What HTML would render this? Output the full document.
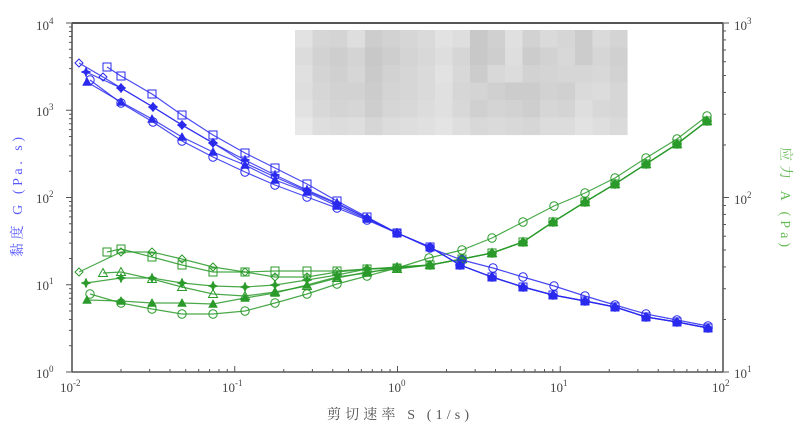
<!DOCTYPE html>
<html><head><meta charset="utf-8">
<style>
html,body{margin:0;padding:0;background:#fff;}
svg{display:block;}
text{font-family:"Liberation Serif","Noto Serif CJK SC",serif;}
</style></head>
<body>
<svg id="s" width="800" height="429" viewBox="0 0 800 429" xmlns="http://www.w3.org/2000/svg">
<rect width="800" height="429" fill="#fff"/>
<g id="box"></g>
<g id="axes" stroke="#555" fill="none" stroke-width="1.3">
<line x1="72" y1="23" x2="723" y2="23" stroke-width="2"/>
<line x1="72" y1="23" x2="72" y2="372" stroke-width="1.6"/>
<line x1="72" y1="372" x2="723" y2="372" stroke-width="1.6"/>
<line x1="723" y1="23" x2="723" y2="372" stroke-width="1.6"/>
</g>
<g id="ticks" stroke="#555" stroke-width="1"></g>
<g id="series"></g>
<g font-size="13" fill="#444">
<text x="36" y="30">10<tspan font-size="9" dy="-6">4</tspan></text>
<text x="36" y="116">10<tspan font-size="9" dy="-6">3</tspan></text>
<text x="36" y="203">10<tspan font-size="9" dy="-6">2</tspan></text>
<text x="36" y="290">10<tspan font-size="9" dy="-6">1</tspan></text>
<text x="36" y="378">10<tspan font-size="9" dy="-6">0</tspan></text>
<text x="734" y="30">10<tspan font-size="9" dy="-6">3</tspan></text>
<text x="734" y="204">10<tspan font-size="9" dy="-6">2</tspan></text>
<text x="734" y="378">10<tspan font-size="9" dy="-6">1</tspan></text>
<text x="60" y="392">10<tspan font-size="9" dy="-6">-2</tspan></text>
<text x="222" y="392">10<tspan font-size="9" dy="-6">-1</tspan></text>
<text x="388" y="392">10<tspan font-size="9" dy="-6">0</tspan></text>
<text x="550" y="392">10<tspan font-size="9" dy="-6">1</tspan></text>
<text x="712" y="392">10<tspan font-size="9" dy="-6">2</tspan></text>
<text x="398" y="419" text-anchor="middle" font-size="14" fill="#555" textLength="142" lengthAdjust="spacing">剪切速率 S (1/s)</text>
</g>
<text transform="translate(22,197) rotate(-90)" text-anchor="middle" font-size="14" fill="#5a5aff" textLength="120" lengthAdjust="spacing">黏度 G (Pa. s)</text>
<text transform="translate(781,197) rotate(90)" text-anchor="middle" font-size="14" fill="#66bb55" textLength="100" lengthAdjust="spacing">应力 A (Pa)</text>
</svg>
<script>
var NS="http://www.w3.org/2000/svg";
function el(p,t,a){var e=document.createElementNS(NS,t);for(var k in a)e.setAttribute(k,a[k]);p.appendChild(e);return e;}
var box=document.getElementById('box');
var g=[226,214,212,222,205,210,214,218,226,222,200,208,224,210,218,214,204,218,212,
220,210,206,212,200,206,212,216,222,214,200,206,222,204,210,216,204,214,208,
224,212,208,214,202,210,214,218,226,216,204,216,220,210,212,214,214,216,210,
222,214,210,210,204,212,214,218,224,214,212,208,204,204,210,208,218,220,214,
226,216,212,214,206,214,216,220,224,216,208,212,210,206,214,212,222,216,214,
232,222,220,222,214,220,222,224,228,222,216,218,216,214,220,220,226,222,218];
for(var r=0;r<6;r++)for(var c=0;c<19;c++){var v=g[r*19+c];
el(box,'rect',{x:295+c*17.5,y:30+r*17.5,width:17.6,height:17.6,fill:'rgb('+v+','+v+','+v+')'});}
var tk=document.getElementById('ticks');
var X0=72,DX=162.75,Y0=372,DY=87.25;
for(var d=0;d<4;d++)for(var m=1;m<10;m++){var x=X0+DX*(d+Math.log10(m));var L=m==1?6:3;
el(tk,'line',{x1:x,y1:372,x2:x,y2:372-L});}
el(tk,'line',{x1:723,y1:372,x2:723,y2:366});
for(var d=0;d<4;d++)for(var m=1;m<10;m++){var y=Y0-DY*(d+Math.log10(m));var L=m==1?6:3;
el(tk,'line',{x1:72,y1:y,x2:72-L,y2:y});}
el(tk,'line',{x1:72,y1:23,x2:66,y2:23});
for(var d=0;d<2;d++)for(var m=1;m<10;m++){var y=Y0-174.5*(d+Math.log10(m));var L=m==1?6:3;
el(tk,'line',{x1:723,y1:y,x2:723+L,y2:y});}
el(tk,'line',{x1:723,y1:23,x2:729,y2:23});
var S=document.getElementById('series');
var tail=[[430,247],[460,265],[492,277],[523,287],[553,295],[585,301],[615,307],[646,317],[677,322],[708,328]];
var tailC=[[430,248],[462,260],[493,268],[523,277],[554,286],[585,296],[615,305],[646,314],[677,320],[708,326]];
var blue=[
{m:'sq',p:[[107,67],[121,76],[152,94],[182,115],[213,135],[245,153],[275,168],[307,184],[337,201],[367,217],[397,233]].concat(tail)},
{m:'di',p:[[79,63],[103,77],[121,88],[153,107],[182,125],[213,143],[245,163],[275,177],[307,191],[337,204],[367,218],[397,233]].concat(tail)},
{m:'st',p:[[86,72],[121,88],[153,107],[182,125],[213,143],[245,160],[275,175],[307,190],[337,203],[367,218],[397,233]].concat(tail)},
{m:'tf',p:[[87,82],[121,102],[152,119],[182,137],[213,152],[245,165],[275,180],[307,192],[337,206],[367,219],[397,233]].concat(tail)},
{m:'ci',p:[[90,80],[121,103],[153,122],[182,141],[213,157],[245,172],[275,185],[307,197],[337,208],[367,220],[397,233]].concat(tailC)}
];
var gt=[[430,265],[462,259],[492,253],[523,242],[553,222],[585,202],[615,184],[646,164],[677,144],[707,121]];
var green=[
{m:'sq',p:[[107,252],[121,249],[152,257],[182,265],[213,272],[245,272],[275,271],[307,271],[337,271],[367,269],[397,268]].concat(gt)},
{m:'di',p:[[79,272],[121,252],[152,252],[182,259],[213,267],[245,272],[275,277],[307,277],[337,272],[367,269],[397,268]].concat(gt)},
{m:'st',p:[[86,283],[121,278],[152,278],[182,283],[213,286],[245,287],[275,285],[307,280],[337,275],[367,269],[397,267]].concat(gt)},
{m:'to',p:[[103,273],[121,272],[152,279],[182,287],[213,294],[245,296],[275,292],[307,286],[337,278],[367,272],[397,269]].concat(gt)},
{m:'tf',p:[[87,300],[121,301],[152,303],[182,303],[213,304],[245,298],[275,293],[307,285],[337,277],[367,273],[397,267]].concat(gt)},
{m:'ci',p:[[90,294],[121,303],[152,309],[182,314],[213,314],[245,311],[275,303],[307,294],[337,284],[367,276],[397,268],[429,258],[462,250],[492,238],[523,222],[554,206],[585,193],[615,178],[646,158],[677,139],[707,116]]}
];
function mark(x,y,t,c){
 if(t=='sq')el(S,'rect',{x:x-4,y:y-4,width:8,height:8,fill:'none',stroke:c,'stroke-width':1});
 else if(t=='ci')el(S,'circle',{cx:x,cy:y,r:4.2,fill:'none',stroke:c,'stroke-width':1});
 else if(t=='di')el(S,'polygon',{points:(x)+','+(y-4)+' '+(x+4)+','+y+' '+x+','+(y+4)+' '+(x-4)+','+y,fill:'none',stroke:c,'stroke-width':1});
 else if(t=='st')el(S,'polygon',{points:(x)+','+(y-5)+' '+(x+1.5)+','+(y-1.5)+' '+(x+5)+','+y+' '+(x+1.5)+','+(y+1.5)+' '+x+','+(y+5)+' '+(x-1.5)+','+(y+1.5)+' '+(x-5)+','+y+' '+(x-1.5)+','+(y-1.5),fill:c,stroke:c,'stroke-width':0.5});
 else if(t=='tf')el(S,'polygon',{points:x+','+(y-4.5)+' '+(x+4.5)+','+(y+3.5)+' '+(x-4.5)+','+(y+3.5),fill:c,stroke:c,'stroke-width':0.5});
 else if(t=='to')el(S,'polygon',{points:x+','+(y-4.5)+' '+(x+4.5)+','+(y+3.5)+' '+(x-4.5)+','+(y+3.5),fill:'none',stroke:c,'stroke-width':1});
}
function draw(arr,c){arr.forEach(function(s){
 el(S,'polyline',{points:s.p.map(function(q){return q.join(',')}).join(' '),fill:'none',stroke:c,'stroke-width':1.2,'stroke-opacity':0.85});
 s.p.forEach(function(q){mark(q[0],q[1],s.m,c);});
});}
draw(green,'#2a9a2a');
draw(blue,'#2a2aee');
</script>
</body></html>
